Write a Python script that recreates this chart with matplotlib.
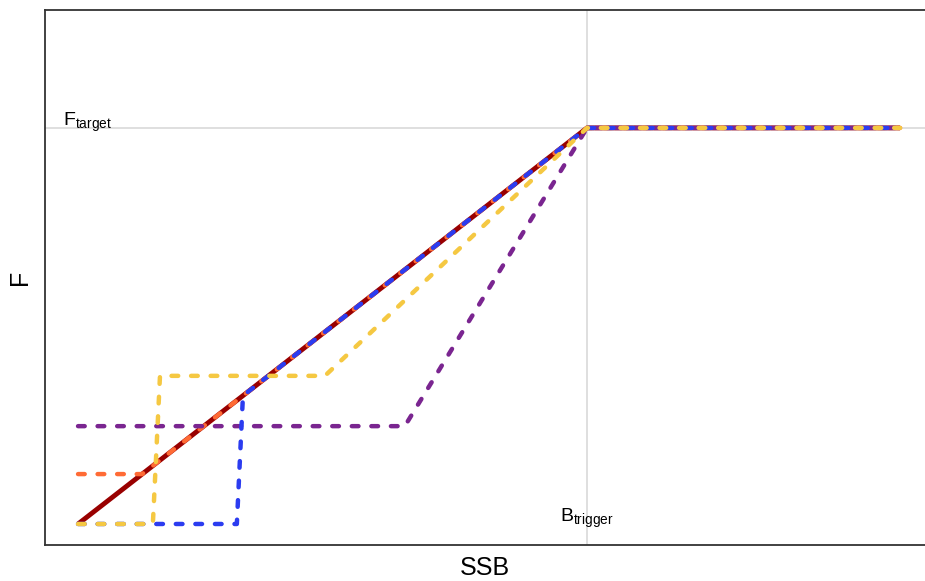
import numpy as np
import matplotlib
matplotlib.use('Agg')
import matplotlib.pyplot as plt

plt.rcParams['font.family'] = ['Liberation Sans', 'DejaVu Sans']
plt.rcParams['mathtext.default'] = 'regular'

# Harvest control rules: SSB (relative to Btrigger) vs F (relative to Ftarget)
b_trigger = 1.0
f_target = 1.0

red_x = [0.0, 1.0, 1.615]
red_f = [0.0, 1.0, 1.0]

orange_x = [0.0, 0.126, 1.0, 1.615]
orange_f = [0.126, 0.126, 1.0, 1.0]

blue_x = [0.0, 0.312, 0.324, 1.0, 1.615]
blue_f = [0.0, 0.0, 0.324, 1.0, 1.0]

purple_x = [0.0, 0.642, 1.0, 1.615]
purple_f = [0.247, 0.247, 1.0, 1.0]

yellow_x = [0.0, 0.147, 0.161, 0.485, 1.0, 1.615]
yellow_f = [0.0, 0.0, 0.374, 0.374, 1.0, 1.0]

fig = plt.figure(figsize=(9.25, 5.81), dpi=100)
ax = fig.add_axes([0.0486, 0.062, 0.9514, 0.921])

ax.axhline(f_target, color='#d9d9d9', lw=1.2, zorder=1)
ax.axvline(b_trigger, color='#d9d9d9', lw=1.2, zorder=1)

lw = 3.2
dash = (1.5, 2.9)
ax.plot(red_x, red_f, color='#990000', lw=lw + 0.3, solid_capstyle='butt', zorder=2)
ax.plot(orange_x, orange_f, color='#ff6b35', lw=lw, dashes=dash,
        dash_capstyle='round', zorder=3)
ax.plot(purple_x, purple_f, color='#7a2590', lw=lw, dashes=dash,
        dash_capstyle='round', zorder=4)
ax.plot(blue_x, blue_f, color='#2b3cf0', lw=lw, dashes=dash,
        dash_capstyle='round', zorder=5)
ax.plot(yellow_x, yellow_f, color='#f5c842', lw=lw, dashes=dash,
        dash_capstyle='round', zorder=6)

ax.text(-0.029, 1.004, '$F_{target}$', fontsize=14, ha='left', va='baseline')
ax.text(b_trigger, 0.006, '$B_{trigger}$', fontsize=14, ha='center', va='baseline')

ax.set_xlim(-0.065, 1.664)
ax.set_ylim(-0.053, 1.298)
ax.set_xticks([])
ax.set_yticks([])
ax.spines['right'].set_visible(False)
for s in ['left', 'bottom', 'top']:
    ax.spines[s].set_color('#333333')
    ax.spines[s].set_linewidth(1.3)

ax.set_xlabel('SSB', fontsize=18, labelpad=8)
ax.set_ylabel('F', fontsize=18, labelpad=9)

fig.savefig('out.png', dpi=100)
